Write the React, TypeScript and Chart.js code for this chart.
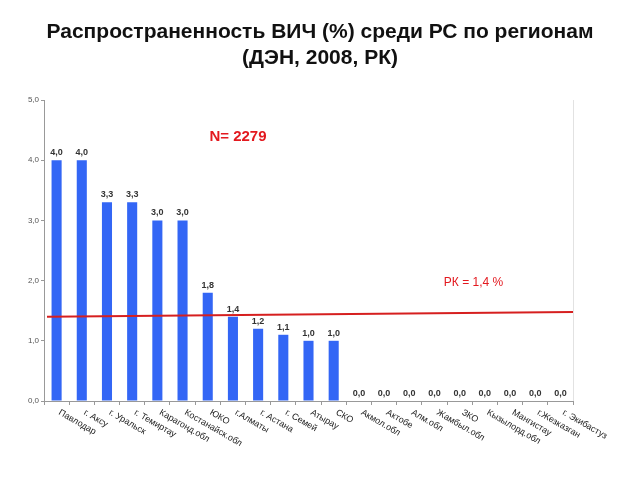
import React, { useEffect, useRef } from "react";
import { Chart, registerables } from "chart.js";

Chart.register(...registerables);

const TITLE_LINES = ["Распространенность ВИЧ (%) среди РС по регионам", "(ДЭН, 2008, РК)"];

const REGIONS = [
  "Павлодар",
  "г. Аксу",
  "г. Уральск",
  "г. Темиртау",
  "Карагонд.обл",
  "Костанайск.обл",
  "ЮКО",
  "г.Алматы",
  "г. Астана",
  "г. Семей",
  "Атырау",
  "СКО",
  "Акмол.обл",
  "Актобе",
  "Алм.обл",
  "Жамбыл.обл",
  "ЗКО",
  "Кызылорд.обл",
  "Мангистау",
  "г.Жезказган",
  "г. Экибастуз",
];

const PREVALENCE = [4.0, 4.0, 3.3, 3.3, 3.0, 3.0, 1.8, 1.4, 1.2, 1.1, 1.0, 1.0, 0, 0, 0, 0, 0, 0, 0, 0, 0];

const Y_MIN = 0;
const Y_MAX = 5;
const Y_STEP = 1;

// national average line (drawn slightly sloped as in the source), start and end values
const RK_LINE = [1.4, 1.48];
const SAMPLE_LABEL = "N= 2279";
const RK_LABEL = "РК = 1,4 %";

const FONT = '"Liberation Sans", Arial, sans-serif';
const fmt = (v: number) => Number(v).toFixed(1).replace(".", ",");

const overlay = {
  id: "overlay",
  afterDatasetsDraw(chart: any) {
    const { ctx, chartArea } = chart;
    const x = chart.scales.x;
    const y = chart.scales.y;
    ctx.save();

    // right border of plot
    ctx.strokeStyle = "#e2e2e2";
    ctx.lineWidth = 1;
    ctx.beginPath();
    ctx.moveTo(chartArea.right + 0.5, chartArea.top);
    ctx.lineTo(chartArea.right + 0.5, chartArea.bottom);
    ctx.stroke();

    // national line
    ctx.strokeStyle = "#d61f1f";
    ctx.lineWidth = 2;
    ctx.beginPath();
    ctx.moveTo(chartArea.left + 3, y.getPixelForValue(RK_LINE[0]));
    ctx.lineTo(chartArea.right, y.getPixelForValue(RK_LINE[1]));
    ctx.stroke();

    // value labels
    const meta = chart.getDatasetMeta(0);
    ctx.font = `bold 9px ${FONT}`;
    ctx.fillStyle = "#333";
    ctx.textAlign = "center";
    ctx.textBaseline = "alphabetic";
    meta.data.forEach((bar: any, i: number) => {
      ctx.fillText(fmt(PREVALENCE[i]), bar.x, bar.y - 5);
    });

    // category labels, rotated down-right
    ctx.font = `9px ${FONT}`;
    ctx.fillStyle = "#222";
    ctx.textAlign = "left";
    ctx.textBaseline = "top";
    REGIONS.forEach((r, i) => {
      const px = x.getPixelForValue(i);
      ctx.save();
      ctx.translate(px + 5, chartArea.bottom + 7);
      ctx.rotate((30 * Math.PI) / 180);
      ctx.fillText(r, 0, 0);
      ctx.restore();
    });

    // annotations
    ctx.fillStyle = "#e3191f";
    ctx.textAlign = "center";
    ctx.textBaseline = "middle";
    ctx.font = `bold 15px ${FONT}`;
    ctx.fillText(SAMPLE_LABEL, x.getPixelForValue(7.2), y.getPixelForValue(4.38));
    ctx.font = `12px ${FONT}`;
    ctx.fillText(RK_LABEL, x.getPixelForValue(16.55), y.getPixelForValue(1.96));

    ctx.restore();
  },
};

export default function App() {
  const ref = useRef<HTMLCanvasElement | null>(null);

  useEffect(() => {
    if (!ref.current) return;
    const chart = new Chart(ref.current, {
      type: "bar",
      data: {
        labels: REGIONS,
        datasets: [
          {
            data: PREVALENCE,
            backgroundColor: "#3366f5",
            borderWidth: 0,
            barPercentage: 0.4,
            categoryPercentage: 1,
            yAxisID: "y",
          },
        ],
      },
      options: {
        responsive: false,
        animation: false,
        devicePixelRatio: 1,
        layout: { padding: 0 },
        plugins: {
          legend: { display: false },
          tooltip: { enabled: false },
          title: {
            display: true,
            text: TITLE_LINES,
            color: "#111",
            font: { family: FONT, size: 21, weight: "bold", lineHeight: 26 / 21 },
            padding: { top: 19, bottom: 29 },
          },
        },
        scales: {
          x: {
            offset: true,
            grid: {
              display: true,
              offset: true,
              drawOnChartArea: false,
              drawTicks: true,
              tickLength: 4,
              color: "#999",
            },
            border: { display: true, color: "#999" },
            ticks: { display: false },
            afterFit: (s: any) => {
              s.height = 79;
            },
          },
          y: {
            min: Y_MIN,
            max: Y_MAX,
            ticks: {
              stepSize: Y_STEP,
              callback: (v: any) => fmt(v),
              color: "#555",
              font: { family: FONT, size: 8 },
              padding: 2,
            },
            grid: { drawOnChartArea: false, tickLength: 3, color: "#999" },
            border: { display: true, color: "#999" },
            afterFit: (s: any) => {
              s.width = 44;
            },
          },
          yRight: {
            position: "right",
            min: Y_MIN,
            max: Y_MAX,
            ticks: { display: false },
            grid: { display: false, drawTicks: false },
            border: { display: false },
            afterFit: (s: any) => {
              s.width = 67;
            },
          },
        },
      },
      plugins: [overlay],
    });
    return () => chart.destroy();
  }, []);

  return (
    <div style={{ position: "absolute", left: 0, top: 0, width: 640, height: 480, background: "#fff" }}>
      <canvas ref={ref} width={640} height={480} />
    </div>
  );
}
